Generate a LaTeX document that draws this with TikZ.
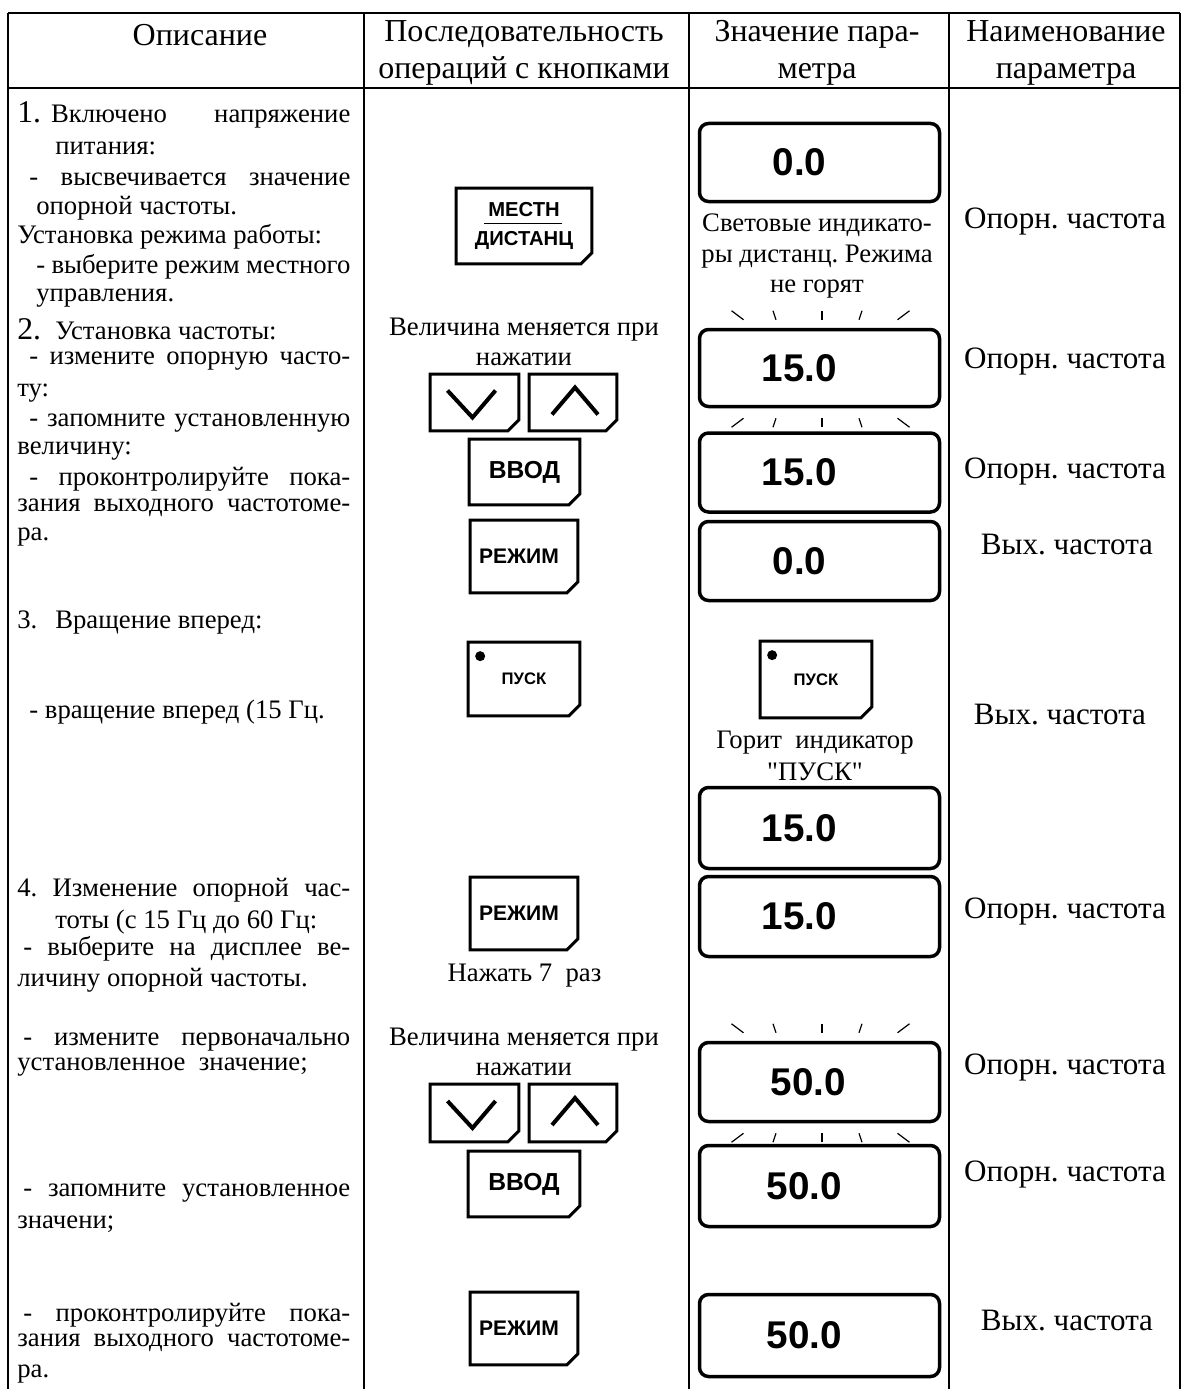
\documentclass[tikz,border=0pt]{standalone}
\usepackage{fontspec}
\setmainfont{Liberation Serif}
\setsansfont{Liberation Sans}
\newfontfamily\pryamfont{Liberation Serif}
\usetikzlibrary{calc}
\newlength\pxu
\setlength\pxu{0.02cm}
\newcommand\rovno[2]{\makebox[#1\pxu][s]{#2}}
\newcommand\bignum[1]{\smash{\fontsize{18}{18}\selectfont #1}}
\frenchspacing

\begin{document}
\begin{tikzpicture}[x=0.02cm, y=-0.02cm,
    ramka/.style={line width=2\pxu},
    hdr/.style={align=center, inner sep=0pt, font=\fontsize{18.2}{21}\selectfont},
    txt/.style={anchor=west, inner sep=0pt, font=\fontsize{15.2}{17}\selectfont},
    mtxt/.style={align=center, inner sep=0pt, font=\fontsize{15.2}{17}\selectfont},
    ptxt/.style={inner sep=0pt, font=\fontsize{17.7}{19}\selectfont},
    knopka/.style={inner sep=0pt, font=\sffamily\bfseries\fontsize{12}{12}\selectfont},
    kontur/.style={line width=3\pxu, line join=miter},
    strelka/.style={line width=4\pxu},
    tablo/.style={draw, line width=3.5\pxu, rounded corners=9\pxu, minimum width=240\pxu,
        minimum height=79\pxu, inner sep=0pt, font=\sffamily\bfseries\fontsize{22}{22}\selectfont},
    luch/.style={line width=1.2\pxu}]
        \useasboundingbox (0,0) rectangle (1182,1389);
        % table grid
        \coordinate (A) at (8, 13);
        \coordinate (B) at (364, 13);
        \coordinate (C) at (689, 13);
        \coordinate (D) at (949, 13);
        \coordinate (E) at (1180, 13);
        \draw[ramka] (A) -- (E);
        \draw[ramka] (A |- 0,88) -- (E |- 0,88);
        \foreach \c in {A, B, C, D, E}
            \draw[ramka] (\c) -- (\c |- 0,1389);
        %
        \node[hdr] (h1) at (200, 35) {Описание};
        \node[hdr] (h2) at (524, 53) {Последовательность\\операций с кнопками};
        \node[hdr] (h3) at (817, 53) {Значение пара-\\метра};
        \node[hdr] (h4) at (1066, 53) {Наименование\\параметра};
        % description column
        \node[txt] (t1) at (17, 117) {\rovno{333}{\bignum{1.}\hspace{10\pxu}Включено напряжение}};
        \node[txt] (t2) at (55, 148) {питания:};
        \node[txt] (t3) at (29, 179) {\rovno{321}{- высвечивается значение}};
        \node[txt] (t4) at (36, 208) {опорной частоты.};
        \node[txt] (t5) at (17, 237) {Установка режима работы:};
        \node[txt] (t6) at (36, 267) {\rovno{314}{- выберите режим местного}};
        \node[txt] (t7) at (36, 298) {управления.};
        \node[txt] (t8) at (17, 331) {\makebox[38\pxu][l]{\bignum{2.}}Установка частоты:};
        \node[txt] (t9) at (29, 361) {\rovno{321}{- измените опорную часто-}};
        \node[txt] (t10) at (17, 393) {ту:};
        \node[txt] (t11) at (29, 423) {\rovno{321}{- запомните установленную}};
        \node[txt] (t12) at (17, 451) {величину:};
        \node[txt] (t13) at (29, 479) {\rovno{321}{- проконтролируйте пока-}};
        \node[txt] (t14) at (17, 508) {\rovno{333}{зания выходного частотоме-}};
        \node[txt] (t15) at (17, 537) {ра.};
        \node[txt] (t16) at (17, 622) {\makebox[38\pxu][l]{3.}Вращение вперед:};
        \node[txt] (t17) at (29, 712) {- вращение вперед (15 Гц.};
        \node[txt] (t18) at (17, 890) {\rovno{333}{4. Изменение опорной час-}};
        \node[txt] (t19) at (55, 922) {тоты (с 15 Гц до 60 Гц:};
        \node[txt] (t20) at (23, 949) {\rovno{327}{- выберите на дисплее ве-}};
        \node[txt] (t21) at (17, 980) {личину опорной частоты.};
        \node[txt] (t22) at (23, 1042) {\rovno{327}{- измените первоначально}};
        \node[txt] (t23) at (17, 1067) {установленное\ \ значение;};
        \node[txt] (t24) at (23, 1193) {\rovno{327}{- запомните установленное}};
        \node[txt] (t25) at (17, 1224) {значени;};
        \node[txt] (t26) at (23, 1315) {\rovno{327}{- проконтролируйте пока-}};
        \node[txt] (t27) at (17, 1343) {\rovno{333}{зания выходного частотоме-}};
        \node[txt] (t28) at (17, 1374) {ра.};
        % buttons
        \node[knopka, minimum width=135\pxu, minimum height=75\pxu, align=center,
            font=\sffamily\bfseries\fontsize{11.5}{17}\selectfont] (mestn) at (524, 226) {МЕСТН\\ДИСТАНЦ};
        \node[knopka, minimum width=88\pxu, minimum height=56\pxu] (vniz1) at (474.5, 402.5) {};
        \node[knopka, minimum width=87\pxu, minimum height=56\pxu] (vverh1) at (573, 402.5) {};
        \node[knopka, minimum width=110\pxu, minimum height=65\pxu,
            font=\sffamily\bfseries\fontsize{14}{14}\selectfont] (vvod1) at (524.5, 472) {ВВОД};
        \node[knopka, minimum width=107\pxu, minimum height=72\pxu] (rezhim1) at (524, 556.5) {РЕЖИМ\rule{10\pxu}{0pt}};
        \node[knopka, minimum width=111\pxu, minimum height=73\pxu,
            font=\sffamily\bfseries\fontsize{9.5}{9.5}\selectfont] (pusk1) at (524, 679) {\raisebox{-3\pxu}{ПУСК}};
        \node[knopka, minimum width=111\pxu, minimum height=76\pxu,
            font=\sffamily\bfseries\fontsize{9.5}{9.5}\selectfont] (pusk2) at (816, 679.5) {\raisebox{-3\pxu}{ПУСК}};
        \node[knopka, minimum width=107\pxu, minimum height=72\pxu] (rezhim2) at (524, 913.5) {РЕЖИМ\rule{10\pxu}{0pt}};
        \node[knopka, minimum width=88\pxu, minimum height=57\pxu] (vniz2) at (474.5, 1113) {};
        \node[knopka, minimum width=87\pxu, minimum height=57\pxu] (vverh2) at (573, 1113) {};
        \node[knopka, minimum width=111\pxu, minimum height=65\pxu,
            font=\sffamily\bfseries\fontsize{14}{14}\selectfont] (vvod2) at (524, 1184) {ВВОД};
        \node[knopka, minimum width=107\pxu, minimum height=72\pxu] (rezhim3) at (524, 1328.5) {РЕЖИМ\rule{10\pxu}{0pt}};
        \foreach \k in {mestn, vniz1, vverh1, vvod1, rezhim1, pusk1, pusk2, rezhim2, vniz2, vverh2, vvod2, rezhim3}
            \draw[kontur] (\k.north west) -- (\k.north east) -- ([yshift=11\pxu]\k.south east)
                -- ([xshift=-11\pxu]\k.south east) -- (\k.south west) -- cycle;
        \draw[line width=1\pxu] ($(mestn.center)+(-40,-3)$) -- ($(mestn.center)+(38,-3)$);
        \foreach \k in {vniz1, vniz2}
            \draw[strelka] ($(\k.center)+(-27,-12)$) -- ($(\k.center)+(-2,15)$) -- ($(\k.center)+(21,-12)$);
        \foreach \k in {vverh1, vverh2}
            \draw[strelka] ($(\k.center)+(-21,12)$) -- ($(\k.center)+(2,-15)$) -- ($(\k.center)+(25,12)$);
        \foreach \k in {pusk1, pusk2}
            \fill ($(\k.north west)+(12,14)$) circle[radius=5\pxu];
        %
        \node[mtxt] (vel1) at (524, 342) {Величина меняется при\\нажатии};
        \node[mtxt] (nazh) at (524.5, 976) {Нажать 7\ \ раз};
        \node[mtxt] (vel2) at (524, 1052) {Величина меняется при\\нажатии};
        % displays
        \node[tablo, minimum height=78\pxu] (d1) at (819.5, 162.5) {0.0\rule{40\pxu}{0pt}};
        \node[tablo, minimum height=77\pxu] (d2) at (819.5, 368) {15.0\rule{40\pxu}{0pt}};
        \node[tablo] (d3) at (819.5, 472.5) {15.0\rule{40\pxu}{0pt}};
        \node[tablo] (d4) at (819.5, 561) {0.0\rule{40\pxu}{0pt}};
        \node[tablo, minimum height=81\pxu] (d5) at (819.5, 828) {15.0\rule{40\pxu}{0pt}};
        \node[tablo, minimum height=80\pxu] (d6) at (819.5, 916.5) {15.0\rule{40\pxu}{0pt}};
        \node[tablo] (d7) at (819.5, 1082) {50.0\rule{22\pxu}{0pt}};
        \node[tablo, minimum height=81\pxu] (d8) at (819.5, 1186) {50.0\rule{30\pxu}{0pt}};
        \node[tablo, minimum height=82\pxu] (d9) at (819.5, 1335.5) {50.0\rule{30\pxu}{0pt}};
        \foreach \t in {d2, d7}
            \foreach \dx/\vx in {-88/12, -46.5/3, 2.5/0, 42.5/-3, 90/-12} {
                \draw[luch] ($(\t.north)+(\dx,-17)$) -- ++(\vx,9);
                \draw[luch] ($(\t.south)+(\dx,19)$) -- ++(\vx,-9);
            }
        \node[mtxt, font=\fontsize{15.2}{17.6}\selectfont] (svet) at (817, 256) {Световые индикато-\\ры дистанц. Режима\\не горят};
        \node[mtxt, font=\fontsize{15.2}{18.5}\selectfont] (gorit) at (815, 756) {Горит\ \ индикатор\\{\pryamfont "ПУСК"}};
        % parameter names
        \node[ptxt] (p1) at (1065, 222) {Опорн. частота};
        \node[ptxt] (p2) at (1065, 362) {Опорн. частота};
        \node[ptxt] (p3) at (1065, 472) {Опорн. частота};
        \node[ptxt] (p4) at (1067, 545) {Вых. частота};
        \node[ptxt] (p5) at (1060, 715) {Вых. частота};
        \node[ptxt] (p6) at (1065, 912) {Опорн. частота};
        \node[ptxt] (p7) at (1065, 1068) {Опорн. частота};
        \node[ptxt] (p8) at (1065, 1175) {Опорн. частота};
        \node[ptxt] (p9) at (1067, 1321) {Вых. частота};
    \end{tikzpicture}
\end{document}
